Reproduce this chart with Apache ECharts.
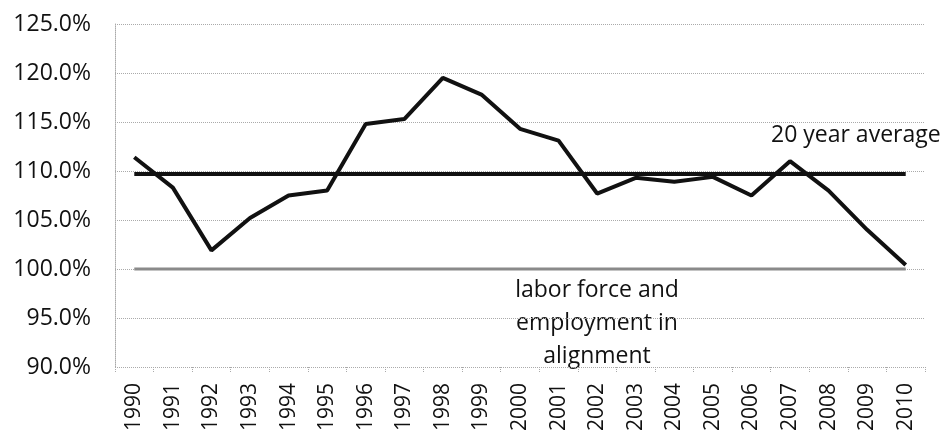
<!DOCTYPE html>
<html>
<head>
<meta charset="utf-8">
<script src="https://cdn.jsdelivr.net/npm/echarts@6/dist/echarts.min.js"></script>
<style>
  html, body { margin: 0; padding: 0; background: #fff; }
  #chart { width: 947px; height: 438px; }
</style>
</head>
<body>
<div id="chart"></div>
<script>
// years on the x axis
var years = ['1990','1991','1992','1993','1994','1995','1996','1997','1998','1999','2000',
             '2001','2002','2003','2004','2005','2006','2007','2008','2009','2010'];
// ratio, in percent
var ratio = [111.4, 108.3, 101.9, 105.2, 107.5, 108.0, 114.8, 115.3, 119.5, 117.8, 114.3,
             113.1, 107.7, 109.3, 108.9, 109.4, 107.5, 111.0, 108.0, 104.0, 100.4];
// 20 year average and alignment reference
var avgValue = 109.7;
var alignValue = 100;
var avgLine = years.map(function () { return avgValue; });
var alignLine = years.map(function () { return alignValue; });

var font = '"Open Sans", "DejaVu Sans", sans-serif';
var chart = echarts.init(document.getElementById('chart'));
chart.setOption({
  animation: false,
  grid: { left: 115, right: 22, top: 24, bottom: 71 },
  xAxis: {
    type: 'category',
    data: years,
    boundaryGap: true,
    axisLine: { show: false },
    axisTick: { show: true, length: 5, lineStyle: { color: '#aaa', type: 'dotted' } },
    axisLabel: { rotate: 90, fontSize: 21, color: '#111', fontFamily: font, margin: 16 }
  },
  yAxis: {
    type: 'value',
    min: 90, max: 125, interval: 5,
    axisLine: { show: true, lineStyle: { color: '#aaa', type: 'dotted' } },
    axisTick: { show: false },
    splitLine: { lineStyle: { color: '#aaa', type: 'dotted' } },
    axisLabel: {
      fontSize: 23, color: '#111', fontFamily: font, margin: 24,
      formatter: function (v) { return v.toFixed(1) + '%'; }
    }
  },
  series: [
    { name: 'alignment', type: 'line', data: alignLine, symbol: 'none',
      lineStyle: { color: '#8a8a8a', width: 3 }, z: 1 },
    { name: 'average', type: 'line', data: avgLine, symbol: 'none',
      lineStyle: { color: '#111', width: 4 }, z: 2 },
    { name: 'ratio', type: 'line', data: ratio, symbol: 'none',
      lineStyle: { color: '#111', width: 4 }, z: 3 }
  ],
  graphic: [
    { type: 'text', x: 771, y: 124,
      style: { text: '20 year average', font: '23px ' + font, fill: '#111' } },
    { type: 'text', x: 597, y: 274,
      style: { text: 'labor force and\nemployment in\nalignment', font: '23px ' + font,
               fill: '#111', align: 'center', verticalAlign: 'top', lineHeight: 33 } }
  ]
});
</script>
</body>
</html>
